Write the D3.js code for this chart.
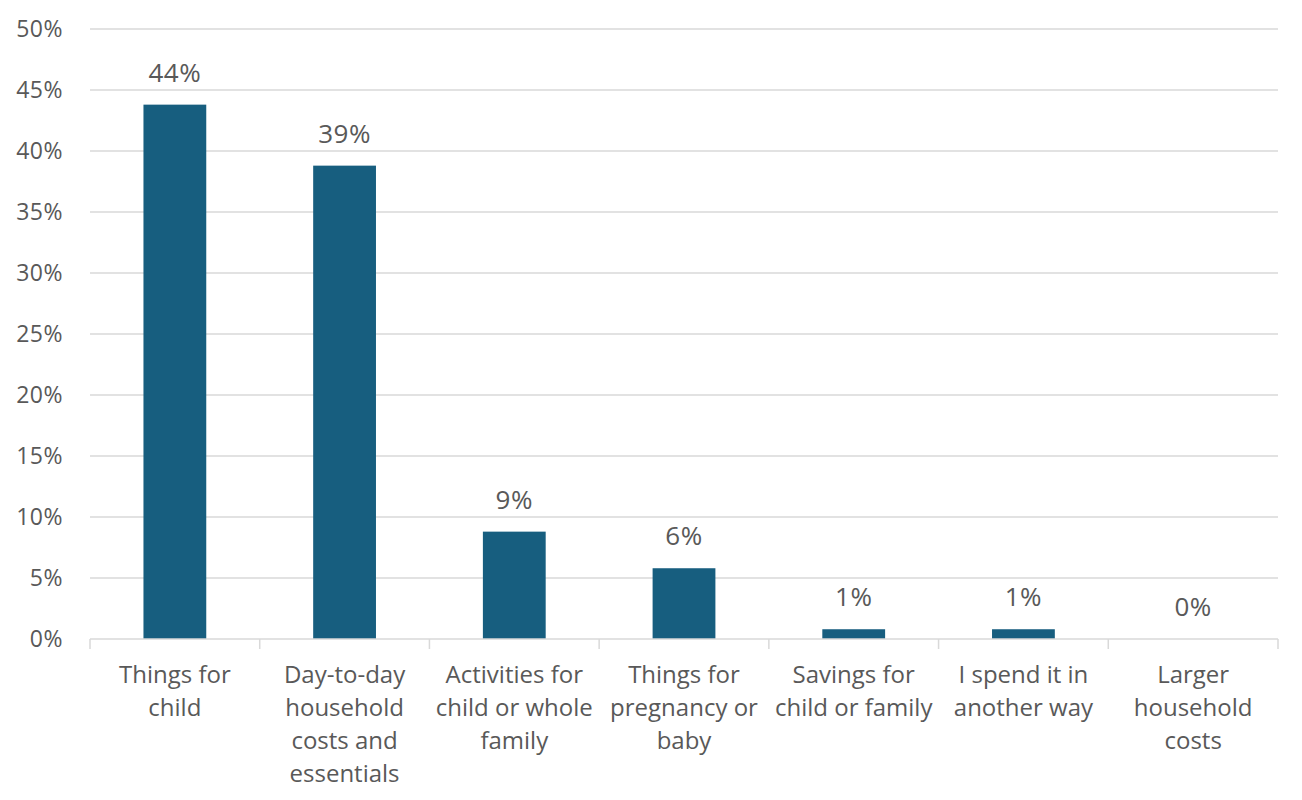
<!DOCTYPE html>
<html lang="en">
<head>
<meta charset="UTF-8">
<title>Spending chart</title>
<script src="https://d3js.org/d3.v7.min.js"></script>
<style>
  * { margin: 0; padding: 0; }
  body { background: #fff; font-family: "Open Sans", sans-serif; }
  svg text { fill: #595959; }
</style>
</head>
<body>
<svg id="chart" width="1302" height="800"></svg>
<script>
// Data
const categories = [
  ['Things for', 'child'],
  ['Day-to-day', 'household', 'costs and', 'essentials'],
  ['Activities for', 'child or whole', 'family'],
  ['Things for', 'pregnancy or', 'baby'],
  ['Savings for', 'child or family'],
  ['I spend it in', 'another way'],
  ['Larger', 'household', 'costs']
];
const values = [43.8, 38.8, 8.8, 5.8, 0.8, 0.8, 0];
const yTicks = [0, 5, 10, 15, 20, 25, 30, 35, 40, 45, 50];

const svg = d3.select('#chart');
const margin = { left: 90, right: 24, top: 29, bottom: 161 };
const width = 1302, height = 800;

const x = d3.scaleBand()
  .domain(d3.range(categories.length))
  .range([margin.left, width - margin.right])
  .paddingInner(0.63)
  .paddingOuter(0.315);

const y = d3.scaleLinear()
  .domain([0, 50])
  .range([height - margin.bottom, margin.top]);

// gridlines
svg.append('g')
  .selectAll('line')
  .data(yTicks.filter(d => d > 0))
  .join('line')
  .attr('x1', margin.left).attr('x2', width - margin.right)
  .attr('y1', d => y(d)).attr('y2', d => y(d))
  .attr('stroke', '#d9d9d9').attr('stroke-width', 1.5);

// y axis labels
svg.append('g')
  .selectAll('text')
  .data(yTicks)
  .join('text')
  .attr('x', 63)
  .attr('y', d => y(d))
  .attr('dy', '0.35em')
  .attr('text-anchor', 'end')
  .style('font-size', '23px')
  .style('letter-spacing', '0.5px')
  .text(d => d + '%');

// bars
svg.append('g')
  .selectAll('rect')
  .data(values)
  .join('rect')
  .attr('x', (d, i) => x(i))
  .attr('width', x.bandwidth())
  .attr('y', d => y(d))
  .attr('height', d => y(0) - y(d))
  .attr('fill', '#175e7f');

// value labels
svg.append('g')
  .selectAll('text')
  .data(values)
  .join('text')
  .attr('x', (d, i) => x(i) + x.bandwidth() / 2)
  .attr('y', d => y(d) - 32)
  .attr('dy', '0.35em')
  .attr('text-anchor', 'middle')
  .style('font-size', '26px')
  .style('letter-spacing', '0.5px')
  .text(d => Math.round(d) + '%');

// x axis line and ticks
const axis = svg.append('g');
axis.append('line')
  .attr('x1', margin.left).attr('x2', width - margin.right)
  .attr('y1', y(0)).attr('y2', y(0))
  .attr('stroke', '#d9d9d9').attr('stroke-width', 1.5);
const bounds = d3.range(categories.length + 1).map(i => margin.left + i * x.step());
axis.selectAll('.tick')
  .data(bounds)
  .join('line')
  .attr('class', 'tick')
  .attr('x1', d => d).attr('x2', d => d)
  .attr('y1', y(0)).attr('y2', y(0) + 10)
  .attr('stroke', '#d9d9d9').attr('stroke-width', 1.5);

// category labels
const cat = svg.append('g')
  .selectAll('text')
  .data(categories)
  .join('text')
  .attr('text-anchor', 'middle')
  .style('font-size', '24px');
cat.each(function(lines, i) {
  const cx = x(i) + x.bandwidth() / 2;
  d3.select(this).selectAll('tspan')
    .data(lines)
    .join('tspan')
    .attr('x', cx)
    .attr('y', (d, j) => 675 + j * 33)
    .attr('dy', '0.35em')
    .text(d => d);
});
</script>
</body>
</html>
